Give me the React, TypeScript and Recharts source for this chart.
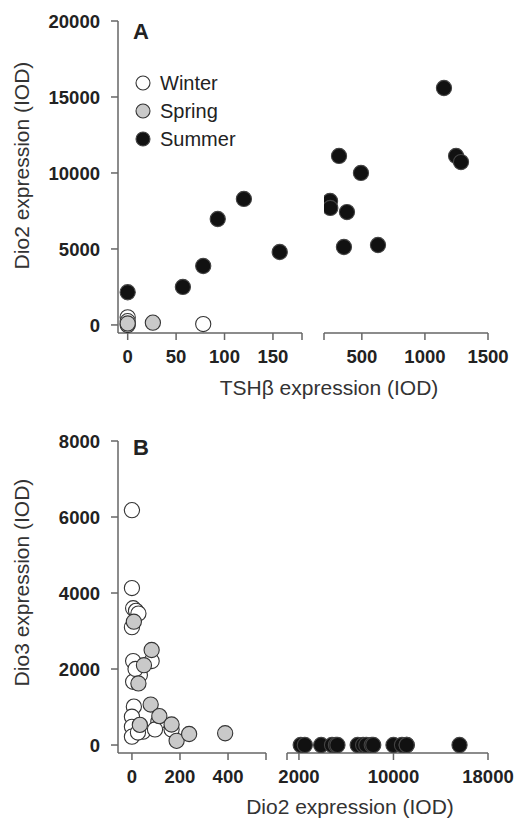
import React from 'react';
import { ScatterChart, Scatter, XAxis, YAxis } from 'recharts';

const FONT = '"Liberation Sans", Arial, Helvetica, sans-serif';

// Panel A: TSHβ (x) vs Dio2 (y)
const winterTshA = [0, 0, 78];
const winterDio2A = [500, 250, 60];
const springTshA = [0, 0, 26];
const springDio2A = [0, 100, 150];
const summerTshA = [0, 57, 78, 93, 120, 157, 248, 250, 319, 358, 382, 493, 628, 1151, 1247, 1286];
const summerDio2A = [2150, 2500, 3880, 6970, 8290, 4800, 8160, 7700, 11120, 5130, 7430, 10000, 5260, 15590, 11120, 10720];

// Panel B: Dio2 (x) vs Dio3 (y)
const winterDio2B = [0, 0, 5, 17, 27, 0, 5, 82, 33, 5, 8, 0, 0, 0, 46, 25, 110, 96, 165, 15];
const winterDio3B = [6180, 4130, 3600, 3530, 3460, 3100, 2210, 2210, 1840, 1665, 1010, 745, 480, 220, 350, 330, 610, 410, 410, 2000];
const springDio2B = [8, 82, 50, 27, 78, 33, 114, 165, 186, 238, 388];
const springDio3B = [3245, 2500, 2100, 1620, 1065, 530, 760, 540, 110, 290, 310];
const summerDio2B = [2150, 2500, 3880, 4800, 5130, 5260, 6970, 7430, 7700, 8160, 8290, 10000, 10720, 11120, 11120, 15590];
const summerDio3B = [0, 0, 0, 0, 0, 0, 0, 0, 0, 0, 0, 0, 0, 0, 0, 0];

// axis ticks
const yTicksA = [0, 5000, 10000, 15000, 20000];
const yTicksB = [0, 2000, 4000, 6000, 8000];
const xTicksA1 = [0, 50, 100, 150, 180];
const xTicksA2 = [200, 500, 1000, 1500];
const xTicksB1 = [0, 200, 400, 558];
const xTicksB2 = [990, 2000, 10000, 18000];

const seasons = [
  { name: 'Winter', fill: '#ffffff', stroke: '#333333' },
  { name: 'Spring', fill: '#c9c9c9', stroke: '#333333' },
  { name: 'Summer', fill: '#111111', stroke: '#444444' },
];

const zip = (xs: number[], ys: number[]) => xs.map((x, i) => ({ x, y: ys[i] }));

const AXIS = { stroke: '#666', strokeWidth: 1.5 };
const TICK_FS = 18.5;

const dot = (fill: string, stroke: string) => (p: any) => (
  <circle cx={p.cx} cy={p.cy} r={7.6} fill={fill} stroke={stroke} strokeWidth={1.1} />
);

// bold tick labels, drawn at the positions recharts hands over
const xTick = (blank: number) => (p: any) =>
  p.payload.value === blank ? <g /> : (
    <text x={p.x} y={p.y} dy="0.71em" textAnchor="middle" fill="#222" fontSize={TICK_FS} fontWeight={700} fontFamily={FONT}>
      {p.payload.value}
    </text>
  );

const yTick = (p: any) => (
  <text x={p.x} y={p.y} dy="0.355em" textAnchor="end" fill="#222" fontSize={TICK_FS} fontWeight={700} fontFamily={FONT}>
    {p.payload.value}
  </text>
);

type Seg = {
  left: number;
  top: number;
  width: number;
  padL: number;
  plotW: number;
  xDomain: [number, number];
  xTicks: number[];
  blank: number;
  yDomain: [number, number];
  yTicks: number[];
  showY: boolean;
  series: { x: number; y: number }[][];
};

const PLOT_H = 312;

function Segment(s: Seg) {
  const right = s.width - s.padL - s.plotW;
  return (
    <div style={{ position: 'absolute', left: s.left, top: s.top }}>
      <ScatterChart
        width={s.width}
        height={10 + PLOT_H + 50}
        margin={{ top: 10, right, bottom: 0, left: s.showY ? 0 : s.padL }}
      >
        <XAxis
          type="number"
          dataKey="x"
          domain={s.xDomain}
          ticks={s.xTicks}
          interval={0}
          allowDataOverflow
          height={50}
          tickSize={7}
          tickMargin={10}
          axisLine={AXIS}
          tickLine={AXIS}
          tick={xTick(s.blank)}
        />
        <YAxis
          type="number"
          dataKey="y"
          domain={s.yDomain}
          ticks={s.yTicks}
          interval={0}
          allowDataOverflow
          hide={!s.showY}
          width={s.padL}
          tickSize={7}
          tickMargin={11}
          axisLine={AXIS}
          tickLine={AXIS}
          tick={yTick}
        />
        {s.series.map((d, i) => (
          <Scatter
            key={seasons[i].name}
            name={seasons[i].name}
            data={d}
            shape={dot(seasons[i].fill, seasons[i].stroke)}
            isAnimationActive={false}
          />
        ))}
      </ScatterChart>
    </div>
  );
}

const textBase: React.CSSProperties = { position: 'absolute', fontFamily: FONT, color: '#333', whiteSpace: 'nowrap' };

const YTitle = ({ text, cy }: { text: string; cy: number }) => (
  <div
    style={{
      ...textBase,
      left: 21 - 140,
      top: cy - 10.5,
      width: 280,
      height: 21,
      lineHeight: '21px',
      fontSize: 21,
      textAlign: 'center',
      transform: 'rotate(-90deg)',
    }}
  >
    {text}
  </div>
);

const XTitle = ({ text, cx, cy }: { text: string; cx: number; cy: number }) => (
  <div
    style={{
      ...textBase,
      left: cx - 150,
      top: cy - 10.5,
      width: 300,
      height: 21,
      lineHeight: '21px',
      fontSize: 21,
      textAlign: 'center',
    }}
  >
    {text}
  </div>
);

const PanelLetter = ({ text, top }: { text: string; top: number }) => (
  <div style={{ ...textBase, left: 133, top, fontSize: 22, lineHeight: '22px', fontWeight: 700, color: '#222' }}>
    {text}
  </div>
);

export default function App() {
  const seriesA1 = [
    zip(winterTshA, winterDio2A),
    zip(springTshA, springDio2A),
    zip(summerTshA, summerDio2A).filter((p) => p.x <= 180),
  ];
  const seriesA2 = [[], [], zip(summerTshA, summerDio2A).filter((p) => p.x >= 200)];
  const seriesB1 = [zip(winterDio2B, winterDio3B), zip(springDio2B, springDio3B), []];
  const seriesB2 = [[], [], zip(summerDio2B, summerDio3B)];

  return (
    <div style={{ position: 'absolute', left: 0, top: 0, width: 514, height: 818, background: '#fff', fontFamily: FONT }}>
      <Segment
        left={0}
        top={11}
        width={310}
        padL={118}
        plotW={184}
        xDomain={[-10, 180]}
        xTicks={xTicksA1}
        blank={180}
        yDomain={[-530, 20000]}
        yTicks={yTicksA}
        showY
        series={seriesA1}
      />
      <Segment
        left={314}
        top={11}
        width={199}
        padL={10}
        plotW={164}
        xDomain={[200, 1500]}
        xTicks={xTicksA2}
        blank={200}
        yDomain={[-530, 20000]}
        yTicks={yTicksA}
        showY={false}
        series={seriesA2}
      />
      <Segment
        left={0}
        top={431}
        width={274}
        padL={118}
        plotW={148}
        xDomain={[-58, 558]}
        xTicks={xTicksB1}
        blank={558}
        yDomain={[-210, 8000]}
        yTicks={yTicksB}
        showY
        series={seriesB1}
      />
      <Segment
        left={277}
        top={431}
        width={237}
        padL={10}
        plotW={201}
        xDomain={[990, 18000]}
        xTicks={xTicksB2}
        blank={990}
        yDomain={[-210, 8000]}
        yTicks={yTicksB}
        showY={false}
        series={seriesB2}
      />

      <PanelLetter text="A" top={21} />
      <PanelLetter text="B" top={437} />

      <div style={{ position: 'absolute', left: 135, top: 69 }}>
        {seasons.map((s) => (
          <div key={s.name} style={{ display: 'flex', alignItems: 'center', height: 28 }}>
            <svg width={16} height={16} style={{ display: 'block' }}>
              <circle cx={8} cy={8} r={7} fill={s.fill} stroke={s.stroke} strokeWidth={1.1} />
            </svg>
            <span style={{ marginLeft: 9, fontSize: 20, color: '#222', fontFamily: FONT }}>{s.name}</span>
          </div>
        ))}
      </div>

      <YTitle text="Dio2 expression (IOD)" cy={165} />
      <YTitle text="Dio3 expression (IOD)" cy={582} />
      <XTitle text="TSHβ expression (IOD)" cx={329} cy={387} />
      <XTitle text="Dio2 expression (IOD)" cx={350} cy={806} />
    </div>
  );
}
